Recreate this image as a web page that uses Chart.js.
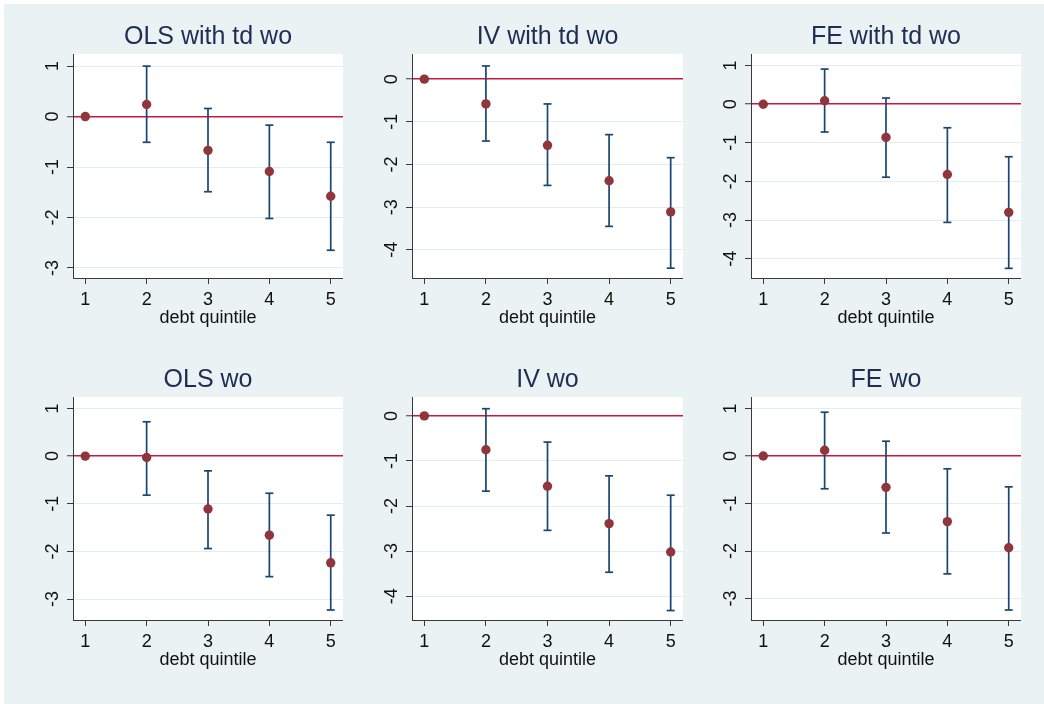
<!DOCTYPE html>
<html>
<head>
<meta charset="utf-8">
<script src="https://cdn.jsdelivr.net/npm/chart.js@4/dist/chart.umd.min.js"></script>
<style>
body{margin:0;background:#fff;width:1044px;height:704px;position:relative;overflow:hidden;}
#bg{position:absolute;left:4px;top:4px;width:1040px;height:700px;background:#eaf2f3;}
canvas{position:absolute;}
</style>
</head>
<body>
<div id="bg"></div>
<script>
// x categories (debt quintile), shared by all six panels
const quintiles = [1, 2, 3, 4, 5];
const titles = ["OLS with td wo", "IV with td wo", "FE with td wo", "OLS wo", "IV wo", "FE wo"];

// point estimates and 95% bounds, one set per panel
const olsTdEst = [0, 0.24, -0.67, -1.09, -1.58];
const olsTdLo  = [0, -0.51, -1.49, -2.02, -2.65];
const olsTdHi  = [0, 1.00, 0.16, -0.17, -0.51];

const ivTdEst = [0, -0.58, -1.55, -2.38, -3.11];
const ivTdLo  = [0, -1.45, -2.49, -3.45, -4.43];
const ivTdHi  = [0, 0.31, -0.58, -1.30, -1.84];

const feTdEst = [0, 0.09, -0.86, -1.82, -2.80];
const feTdLo  = [0, -0.72, -1.89, -3.06, -4.25];
const feTdHi  = [0, 0.91, 0.16, -0.61, -1.36];

const olsEst = [0, -0.03, -1.11, -1.66, -2.24];
const olsLo  = [0, -0.82, -1.94, -2.53, -3.23];
const olsHi  = [0, 0.72, -0.31, -0.78, -1.24];

const ivEst = [0, -0.75, -1.56, -2.39, -3.02];
const ivLo  = [0, -1.67, -2.54, -3.47, -4.32];
const ivHi  = [0, 0.16, -0.58, -1.33, -1.76];

const feEst = [0, 0.12, -0.66, -1.38, -1.93];
const feLo  = [0, -0.69, -1.62, -2.48, -3.24];
const feHi  = [0, 0.92, 0.31, -0.27, -0.65];

// y tick labels and axis limits per panel
const yTicks = [
    [-3, -2, -1, 0, 1],
    [-4, -3, -2, -1, 0],
    [-4, -3, -2, -1, 0, 1],
    [-3, -2, -1, 0, 1],
    [-4, -3, -2, -1, 0],
    [-3, -2, -1, 0, 1]
];
const yMin = [-3.2, -4.66, -4.5, -3.44, -4.53, -3.45];
const yMax = [1.24, 0.59, 1.3, 1.24, 0.42, 1.24];

const panelEst = [olsTdEst, ivTdEst, feTdEst, olsEst, ivEst, feEst];
const panelLo = [olsTdLo, ivTdLo, feTdLo, olsLo, ivLo, feLo];
const panelHi = [olsTdHi, ivTdHi, feTdHi, olsHi, ivHi, feHi];

const FONT = '"Liberation Sans", Arial, Helvetica, sans-serif';
const maroon = '#90353b';
const navy = '#1a476f';
const zeroRed = '#cc1540';
const gridCol = '#e3ecee';
const axisCol = '#3a3a3a';
const titleCol = '#1e2d53';

// canvas placement: plot area starts 73px right of canvas left, 54px below canvas top
const colLeft = [0, 339, 678];
const colWidth = [343, 344, 343];
const rowTop = [0, 343];
const rowHeight = [338, 337];

// white plot region like stata's plotregion, plus the panel title centred on it
const plotBg = {
    id: 'plotBg',
    beforeDraw(chart){
        let a = chart.chartArea;
        let ctx = chart.ctx;
        ctx.save();
        ctx.fillStyle = '#fff';
        ctx.fillRect(a.left, a.top, a.right - a.left, a.bottom - a.top);
        ctx.restore();
    },
    afterDraw(chart, args, opts){
        let a = chart.chartArea;
        let ctx = chart.ctx;
        ctx.save();
        ctx.fillStyle = titleCol;
        ctx.font = '25px ' + FONT;
        ctx.textAlign = 'center';
        ctx.textBaseline = 'middle';
        ctx.fillText(opts.text, (a.left + a.right) / 2, a.top - 17);
        ctx.restore();
    }
};

let makePanel = function(i){
    let col = i % 3, row = Math.floor(i / 3);
    let cv = document.createElement('canvas');
    cv.width = colWidth[col];
    cv.height = rowHeight[row];
    cv.style.left = colLeft[col] + 'px';
    cv.style.top = rowTop[row] + 'px';
    document.body.appendChild(cv);

    let est = quintiles.map((q, k) => ({x: q, y: panelEst[i][k]}));
    // vertical spikes with caps, broken by null between quintiles
    let ci = [];
    quintiles.forEach((q, k) => {
        ci.push({x: q, y: panelLo[i][k]});
        ci.push({x: q, y: panelHi[i][k]});
        ci.push({x: q, y: null});
    });

    new Chart(cv, {
        type: 'scatter',
        data: {
            datasets: [{
                type: 'scatter',
                data: est,
                pointRadius: 4.7,
                pointBackgroundColor: maroon,
                pointBorderColor: maroon,
                pointBorderWidth: 0
            }, {
                type: 'line',
                data: ci,
                borderColor: navy,
                borderWidth: 1.7,
                spanGaps: false,
                fill: false,
                pointStyle: 'line',
                pointRadius: 4,
                pointBorderWidth: 1.7,
                pointBorderColor: navy
            }]
        },
        options: {
            responsive: false,
            animation: false,
            layout: {autoPadding: false, padding: {top: 54, left: 0, right: 0, bottom: 0}},
            plugins: {
                legend: {display: false},
                tooltip: {enabled: false},
                title: {display: false},
                plotBg: {text: titles[i]}
            },
            scales: {
                x: {
                    type: 'linear',
                    min: 0.8,
                    max: 5.2,
                    offset: false,
                    afterBuildTicks: s => { s.ticks = quintiles.map(v => ({value: v})); },
                    afterFit: s => { s.height = 60; s.paddingLeft = 0; s.paddingRight = 0; },
                    grid: {drawOnChartArea: false, offset: false, tickLength: 6, tickColor: axisCol, tickWidth: 1},
                    border: {color: axisCol, width: 1},
                    ticks: {font: {family: FONT, size: 18}, color: '#111', padding: 5, maxRotation: 0},
                    title: {display: true, text: 'debt quintile', color: '#111', font: {family: FONT, size: 18}, padding: {top: 0, bottom: 9}}
                },
                y: {
                    min: yMin[i],
                    max: yMax[i],
                    afterBuildTicks: s => { s.ticks = yTicks[i].map(v => ({value: v})); },
                    afterFit: s => { s.width = 73; s.paddingTop = 0; s.paddingBottom = 0; },
                    grid: {
                        color: ctx => (ctx.tick && ctx.tick.value === 0) ? zeroRed : gridCol,
                        lineWidth: ctx => (ctx.tick && ctx.tick.value === 0) ? 1.5 : 1,
                        tickLength: 6,
                        tickColor: axisCol,
                        tickWidth: 1
                    },
                    border: {color: axisCol, width: 1},
                    ticks: {font: {family: FONT, size: 18}, color: '#111', padding: 6, minRotation: 90, maxRotation: 90, crossAlign: 'center'}
                }
            }
        },
        plugins: [plotBg]
    });
}

for(let i = 0; i < 6; i++){
    makePanel(i);
}
</script>
</body>
</html>
